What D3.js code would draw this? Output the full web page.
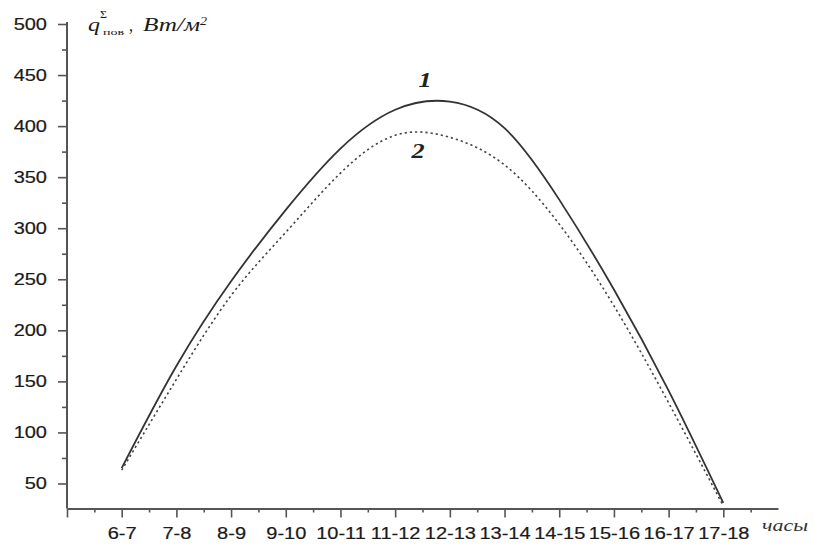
<!DOCTYPE html>
<html>
<head>
<meta charset="utf-8">
<script src="https://cdn.jsdelivr.net/npm/d3@7"></script>
<style>
  html, body { margin: 0; padding: 0; background: #fff; }
  svg { display: block; }
</style>
</head>
<body>
<svg id="chart" width="814" height="548"></svg>
<script>
// Hourly intervals along the x axis
const hours = ["6-7", "7-8", "8-9", "9-10", "10-11", "11-12", "12-13", "13-14", "14-15", "15-16", "16-17", "17-18"];
// Curve 1 (solid) and curve 2 (dotted), W/m²
const curve1 = [65, 165, 248, 318, 378, 416, 424, 398, 328, 240, 141, 31];
const curve2 = [63, 152, 234, 296, 354, 391, 389, 362, 304, 224, 129, 28];
// Y axis tick values
const yMajorTicks = [50, 100, 150, 200, 250, 300, 350, 400, 450, 500];
const yMinorTicks = [75, 125, 175, 225, 275, 325, 375, 425, 475];

const svg = d3.select("#chart");
const axisColor = "#555";
const stretch = 1.25; // horizontal text widening
const sans = "'Liberation Sans', Arial, sans-serif";
const serif = "'Liberation Serif', 'Times New Roman', serif";

const x = d3.scaleLinear().domain([-1, 12]).range([67, 778]);
const y = d3.scaleLinear().domain([25.5, 500]).range([508.5, 24]);

// X axis: major ticks at each interval, minor ticks halfway between
const xMajor = d3.range(-1, 12);
const xMinor = d3.range(-0.5, 12, 1);

const gx = svg.append("g").attr("transform", `translate(0,${y(25.5)})`);
gx.call(d3.axisBottom(x).tickValues(xMajor).tickSize(9).tickSizeOuter(0)
  .tickFormat(i => hours[i] || ""));
gx.select(".domain").attr("stroke", axisColor).attr("stroke-width", 2);
gx.selectAll(".tick line").attr("stroke", axisColor).attr("stroke-width", 1.6);
gx.selectAll(".tick text")
  .attr("y", 19).attr("dy", "0.71em")
  .attr("font-family", sans).attr("font-size", 16)
  .attr("fill", "#1a1a1a").attr("stroke", "#1a1a1a").attr("stroke-width", 0.2)
  .attr("transform", `scale(${stretch},1)`);

const gxm = svg.append("g").attr("transform", `translate(0,${y(25.5)})`);
gxm.call(d3.axisBottom(x).tickValues(xMinor).tickSize(4).tickSizeOuter(0).tickFormat(""));
gxm.select(".domain").remove();
gxm.selectAll(".tick line").attr("stroke", axisColor).attr("stroke-width", 1.6);

// Y axis
const gy = svg.append("g").attr("transform", `translate(${x(-1)},0)`);
gy.call(d3.axisLeft(y).tickValues(yMajorTicks).tickSize(9).tickSizeOuter(0));
gy.select(".domain").attr("stroke", axisColor).attr("stroke-width", 2)
  .attr("d", `M0,${y(500) - 2}V${y(25.5)}`);
gy.selectAll(".tick line").attr("stroke", axisColor).attr("stroke-width", 1.6);
gy.selectAll(".tick text")
  .attr("x", -16)
  .attr("font-family", sans).attr("font-size", 16)
  .attr("fill", "#1a1a1a").attr("stroke", "#1a1a1a").attr("stroke-width", 0.2)
  .attr("transform", `scale(${stretch},1)`);

const gym = svg.append("g").attr("transform", `translate(${x(-1)},0)`);
gym.call(d3.axisLeft(y).tickValues(yMinorTicks).tickSize(5).tickSizeOuter(0).tickFormat(""));
gym.select(".domain").remove();
gym.selectAll(".tick line").attr("stroke", axisColor).attr("stroke-width", 1.6);

// Curves
const line = d3.line()
  .x((d, i) => x(i))
  .y(d => y(d))
  .curve(d3.curveNatural);

svg.append("path").datum(curve1)
  .attr("d", line).attr("fill", "none")
  .attr("stroke", "#333").attr("stroke-width", 1.8);

svg.append("path").datum(curve2)
  .attr("d", line).attr("fill", "none")
  .attr("stroke", "#444").attr("stroke-width", 1.6)
  .attr("stroke-dasharray", "2.2,3");

// Curve labels
function curveLabel(txt, cx, cy) {
  svg.append("text")
    .attr("transform", `translate(${cx},${cy}) scale(${stretch},1)`)
    .attr("text-anchor", "middle")
    .attr("font-family", serif).attr("font-style", "italic")
    .attr("font-weight", "bold").attr("font-size", 21).attr("fill", "#222")
    .text(txt);
}
curveLabel("1", 425, 87);
curveLabel("2", 418, 158);

// Y axis title: q with Σ and "пов", then units
function titlePart(txt, x0, y0, size, len, italic) {
  svg.append("text")
    .attr("x", x0).attr("y", y0)
    .attr("font-family", serif)
    .attr("font-style", italic ? "italic" : "normal")
    .attr("font-size", size).attr("fill", "#1a1a1a")
    .attr("textLength", len).attr("lengthAdjust", "spacingAndGlyphs")
    .text(txt);
}
titlePart("q", 88, 31, 19, 12, true);
titlePart("Σ", 100, 18, 10, 7, false);
titlePart("пов", 103, 35, 8, 21, false);
titlePart(",", 129, 31, 18, 4, true);
titlePart("Вт/м", 143, 31, 18, 57, true);
titlePart("2", 200, 25, 12, 7, true);

// X axis title
svg.append("text")
  .attr("x", 762).attr("y", 531)
  .attr("font-family", serif).attr("font-style", "italic")
  .attr("font-size", 17).attr("fill", "#333")
  .attr("textLength", 46).attr("lengthAdjust", "spacingAndGlyphs")
  .text("часы");
</script>
</body>
</html>
